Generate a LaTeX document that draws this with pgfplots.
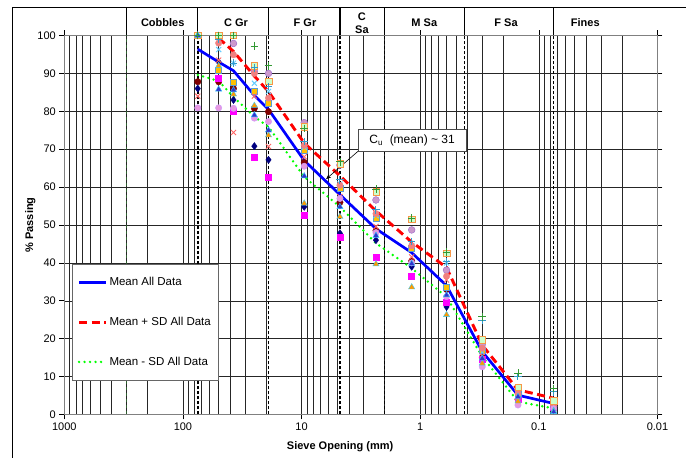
\documentclass[border=0pt]{standalone}
\usepackage{fontspec}
\setmainfont{Liberation Sans}
\usepackage{pgfplots}
\pgfplotsset{compat=1.18}
\usetikzlibrary{arrows.meta}
\definecolor{maroonc}{HTML}{800000}
\definecolor{navyc}{HTML}{000080}
\definecolor{magc}{HTML}{FF00FF}
\definecolor{yelc}{HTML}{FFC000}
\definecolor{yeledge}{HTML}{5B9BD5}
\definecolor{cyanx}{HTML}{66CCFF}
\definecolor{violf}{HTML}{CC99CC}
\definecolor{viole}{HTML}{9966CC}
\definecolor{greenp}{HTML}{339933}
\definecolor{trif}{HTML}{3333CC}
\definecolor{trie}{HTML}{33CCFF}
\definecolor{pinkf}{HTML}{E699E0}
\definecolor{pinke}{HTML}{CC99FF}
\definecolor{salm}{HTML}{F08080}
\definecolor{palef}{HTML}{CCFFCC}
\definecolor{palee}{HTML}{F79646}
\definecolor{salx}{HTML}{FF6666}
\definecolor{orf}{HTML}{FF9900}
\definecolor{tealp}{HTML}{3399CC}
\definecolor{meanblue}{HTML}{0000FF}
\definecolor{plusred}{HTML}{FF0000}
\definecolor{minusgreen}{HTML}{00FF00}
\definecolor{dkgreen}{HTML}{2E5E2E}
\begin{document}
\begin{tikzpicture}
\useasboundingbox (0pt,0pt) rectangle (686pt,458pt);
\draw[black, line width=0.8pt] (12.5pt,0pt) -- (12.5pt,451pt) -- (686pt,451pt);
\begin{axis}[
  at={(64.3pt,43.5pt)}, anchor=south west,
  scale only axis, width=593.2pt, height=379pt,
  xmode=log, x dir=reverse, xmin=0.01, xmax=1000,
  ymin=0, ymax=100, ytick={0,10,...,100},
  xtick={0.01,0.1,1,10,100,1000},
  xticklabels={0.01,0.1,1,10,100,1000},
  /pgf/number format/assume math mode=true,
  tick label style={font=\fontsize{11}{13}\selectfont},
  tick align=outside, major tick length=5pt, minor tick length=0pt,
  tick style={black, line width=0.6pt},
  grid=both,
  major grid style={black!85, line width=0.55pt},
  minor grid style={black!85, line width=0.55pt},
  axis line style={black!50, line width=0.9pt},
  clip=false,
  xlabel={\bfseries Sieve Opening (mm)},
  ylabel={\bfseries \% Passing},
  every axis x label/.style={at={(axis description cs:0.465,-0.085)}, anchor=center, font=\fontsize{11}{13}\selectfont},
  every axis y label/.style={at={(axis description cs:-0.0573,0.5)}, anchor=center, rotate=90, font=\fontsize{11}{13}\selectfont},
  legend style={at={(axis description cs:0.0135,0.397)}, anchor=north west,
    font=\fontsize{11.5}{13}\selectfont, draw=black!60, line width=0.6pt,
    inner xsep=5pt, inner ysep=11pt, row sep=26pt, fill=white},
  legend cell align=left,
  legend image code/.code={\draw[#1] (0pt,0pt) -- (27pt,0pt);},
]
% sieve boundaries
\addplot[dkgreen, dashed, line width=0.8pt, forget plot] coordinates {(300,0)(300,100)};
\addplot[black, dash pattern=on 3pt off 2pt, line width=1.5pt, forget plot] coordinates {(75,0)(75,100)};
\addplot[black, dash pattern=on 3pt off 2pt, line width=1.5pt, forget plot] coordinates {(19,0)(19,100)};
\addplot[black, dash pattern=on 3pt off 2pt, line width=1.5pt, forget plot] coordinates {(4.75,0)(4.75,100)};
\addplot[black, dash pattern=on 3pt off 2pt, line width=1.5pt, forget plot] coordinates {(2,0)(2,100)};
\addplot[black, dash pattern=on 3pt off 2pt, line width=1.5pt, forget plot] coordinates {(0.425,0)(0.425,100)};
\addplot[black, dash pattern=on 3pt off 2pt, line width=1.5pt, forget plot] coordinates {(0.075,0)(0.075,100)};
% band separators
\foreach \xx in {300,75,19,4.75,2,0.425,0.075}{
  \edef\temp{\noexpand\draw[black, line width=1.3pt] (axis cs:\xx,100) -- (axis cs:\xx,107.3);}
  \temp
}
\node[font=\bfseries\fontsize{11}{12}\selectfont] at (axis cs:148,103.4) {Cobbles};
\node[font=\bfseries\fontsize{11}{12}\selectfont] at (axis cs:35.7,103.4) {C Gr};
\node[font=\bfseries\fontsize{11}{12}\selectfont] at (axis cs:9.36,103.4) {F Gr};
\node[font=\bfseries\fontsize{11}{13}\selectfont, align=center, inner sep=0pt] at (axis cs:3.1,103.2) {C\\Sa};
\node[font=\bfseries\fontsize{11}{12}\selectfont] at (axis cs:0.924,103.4) {M Sa};
\node[font=\bfseries\fontsize{11}{12}\selectfont] at (axis cs:0.189,103.4) {F Sa};
\node[font=\bfseries\fontsize{11}{12}\selectfont] at (axis cs:0.0406,103.4) {Fines};
% sample data
\addplot[only marks, mark=*, mark size=3.2pt, draw=maroonc, fill=maroonc, forget plot] coordinates {(75,87.8)(50,87.8)(37.5,86)(25,80.8)(19,79.9)(9.5,66.5)(4.75,56)(2.36,48.5)(1.18,40.5)(0.6,33)(0.3,15)(0.15,4)(0.075,2)};
\addplot[only marks, mark=diamond*, mark size=3.6pt, draw=navyc, fill=navyc, forget plot] coordinates {(75,86)(50,93)(37.5,83)(25,70.8)(19,67.2)(9.5,54.8)(4.75,47.8)(2.36,46)(1.18,39)(0.6,28.4)(0.3,14)(0.15,4.2)(0.075,1.8)};
\addplot[only marks, mark=square*, mark size=3pt, draw=magc, fill=magc, forget plot] coordinates {(75,100)(50,88.7)(37.5,79.9)(25,68)(19,62.7)(9.5,52.6)(4.75,46.9)(2.36,41.6)(1.18,36.4)(0.6,29.5)(0.3,14.5)(0.15,4)(0.075,2)};
\addplot[only marks, mark=square*, mark size=3pt, draw=yeledge, fill=yelc, forget plot] coordinates {(75,100)(50,90.9)(37.5,87.8)(25,85.2)(19,82.1)(9.5,69.8)(4.75,59.7)(2.36,51.8)(1.18,43.9)(0.6,33.7)(0.3,17)(0.15,5.6)(0.075,3.4)};
\addplot[only marks, mark=x, mark size=3.6pt, draw=cyanx, line width=0.9pt, forget plot] coordinates {(75,100)(50,96.3)(37.5,92.7)(25,87.4)(19,85.2)(9.5,70.5)(4.75,60.8)(2.36,52.5)(1.18,44.6)(0.6,40)(0.3,16.5)(0.15,5)(0.075,3)};
\addplot[only marks, mark=*, mark size=3.4pt, draw=viole, fill=violf, forget plot] coordinates {(75,100)(50,100)(37.5,97.9)(25,90.5)(19,90)(9.5,77)(4.75,65.8)(2.36,56.6)(1.18,48.7)(0.6,38.1)(0.3,18.5)(0.15,6.5)(0.075,2.1)};
\addplot[only marks, mark=x, mark size=3.6pt, draw=salx, line width=0.9pt, forget plot] coordinates {(75,84)(50,93.5)(37.5,74.4)(25,84)(19,70.7)(9.5,68)(4.75,57.5)(2.36,49.6)(1.18,41.6)(0.6,35.5)(0.3,15.5)(0.15,4.5)(0.075,2.5)};
\addplot[only marks, mark=*, mark size=3.2pt, draw=salm, fill=salm, forget plot] coordinates {(75,100)(50,98)(37.5,94.9)(25,90)(19,83.5)(9.5,71)(4.75,60.5)(2.36,53)(1.18,44.5)(0.6,36.5)(0.3,17.5)(0.15,5.5)(0.075,2.5)};
\addplot[only marks, mark=*, mark size=3.2pt, draw=pinke, fill=pinkf, forget plot] coordinates {(75,80.9)(50,80.9)(37.5,80.8)(25,78.2)(19,77.3)(9.5,65.5)(4.75,57)(2.36,48)(1.18,40)(0.6,31.1)(0.3,12.6)(0.15,2.5)(0.075,1.5)};
\addplot[only marks, mark=square*, mark size=3.2pt, draw=palee, fill=palef, forget plot] coordinates {(75,100)(50,100)(37.5,100)(25,92)(19,88)(9.5,75.9)(4.75,66.2)(2.36,58.8)(1.18,51.5)(0.6,42.5)(0.3,19.7)(0.15,7.2)(0.075,3.6)};
\addplot[only marks, mark=triangle*, mark size=3.6pt, draw=trie, fill=orf, forget plot] coordinates {(75,100)(50,92)(37.5,84.5)(25,81.5)(19,73.7)(9.5,55.7)(4.75,52.2)(2.36,39.7)(1.18,33.6)(0.6,26.3)(0.3,13.5)(0.15,3.5)(0.075,1)};
\addplot[only marks, mark=triangle*, mark size=3.6pt, draw=trie, fill=trif, forget plot] coordinates {(75,100)(50,85.8)(37.5,85.6)(25,79)(19,75)(9.5,62.9)(4.75,54.8)(2.36,47.2)(1.18,39.8)(0.6,31.5)(0.3,14.8)(0.15,4.7)(0.075,0.7)};
\addplot[only marks, mark=+, mark size=3.8pt, draw=tealp, line width=1pt, forget plot] coordinates {(75,100)(50,99)(37.5,92.7)(25,91.5)(19,86.5)(9.5,72)(4.75,61.9)(2.36,54)(1.18,45.6)(0.6,40.3)(0.3,24.9)(0.15,10)(0.075,6)};
\addplot[only marks, mark=+, mark size=3.8pt, draw=greenp, line width=0.8pt, forget plot] coordinates {(75,100)(50,100)(37.5,100)(25,97.2)(19,92)(9.5,75.5)(4.75,66.7)(2.36,59.5)(1.18,51.8)(0.6,42.8)(0.3,25.8)(0.15,10.9)(0.075,6.9)};
% mean curves
\addplot[meanblue, line width=2.7pt, mark=none] coordinates {(75,96.4)(50,93)(37.5,90.7)(25,84.2)(19,80.5)(9.5,67)(4.75,58)(2.36,49)(1.18,42.7)(0.6,34)(0.3,16.6)(0.15,5.1)(0.075,2.9)};
\addlegendentry{Mean All Data}
\addplot[plusred, line width=2.9pt, dash pattern=on 8pt off 4.5pt, mark=none] coordinates {(50,99.3)(37.5,95.8)(25,89.3)(19,85.2)(9.5,71.6)(4.75,63)(2.36,53.7)(1.18,45.5)(0.6,38.8)(0.3,18.3)(0.15,6.5)(0.075,4.3)};
\addlegendentry{Mean + SD All Data}
\addplot[minusgreen, line width=2.7pt, line cap=round, dash pattern=on 0pt off 5.5pt, mark=none] coordinates {(75,89.6)(50,88)(37.5,83.8)(25,78.6)(19,75.9)(9.5,62.7)(4.75,54.8)(2.36,45.2)(1.18,38.6)(0.6,31)(0.3,15.3)(0.15,3.4)(0.075,1.6)};
\addlegendentry{Mean - SD All Data}
% annotation
\draw[black, line width=0.6pt, -{Stealth[length=5pt,width=4pt]}] (axis cs:3.33,69.5) -- (axis cs:6.22,62.1);
\node[draw=black!70, fill=white, line width=0.6pt, minimum width=107.4pt, minimum height=22.4pt, font=\fontsize{12}{14}\selectfont] at (axis cs:1.17,72.3) {C\textsubscript{u}\ \ (mean) \textasciitilde\ 31};
\end{axis}
\end{tikzpicture}
\end{document}
